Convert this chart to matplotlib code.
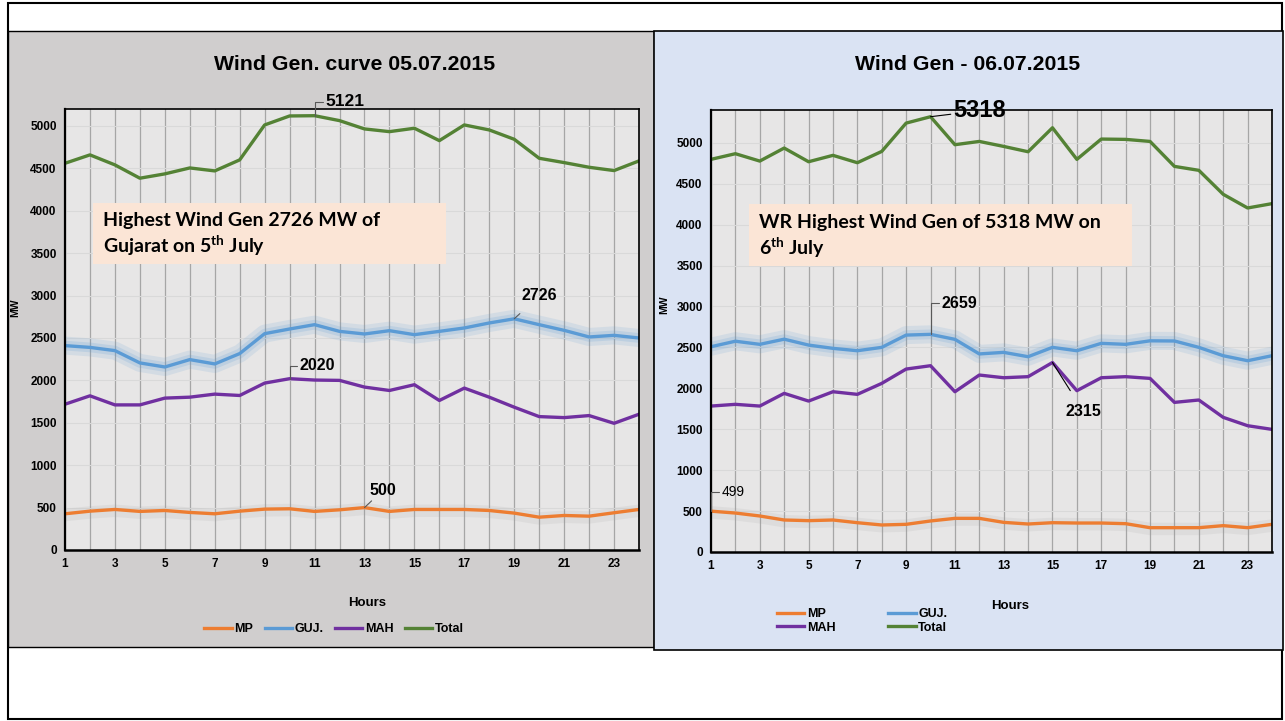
import numpy as np
import matplotlib
matplotlib.use("Agg")
import matplotlib.pyplot as plt
from matplotlib.patches import Rectangle

plt.rcParams["font.family"] = ["Liberation Sans", "DejaVu Sans"]
plt.rcParams["mathtext.fontset"] = "custom"
plt.rcParams["mathtext.rm"] = "Lato:bold"

hours = list(range(1, 25))
odd_hours = list(range(1, 25, 2))

# 05.07.2015
mp_d1 = [427, 458, 478, 455, 466, 443, 427, 458, 482, 486, 455, 474,
         500, 455, 478, 478, 478, 466, 435, 387, 407, 399, 439, 478]
guj_d1 = [2410, 2389, 2351, 2206, 2158, 2245, 2194, 2316, 2551, 2606, 2657, 2578,
          2547, 2586, 2539, 2578, 2618, 2677, 2726, 2657, 2590, 2512, 2531, 2500]
mah_d1 = [1719, 1818, 1711, 1711, 1791, 1802, 1838, 1822, 1968, 2020, 2004, 2000,
          1921, 1881, 1949, 1763, 1909, 1802, 1684, 1573, 1561, 1585, 1494, 1601]
tot_d1 = [4560, 4659, 4541, 4384, 4435, 4505, 4470, 4600, 5012, 5118, 5121, 5063,
          4965, 4933, 4973, 4827, 5012, 4953, 4843, 4619, 4568, 4513, 4474, 4588]

# 06.07.2015
mp_d2 = [499, 476, 440, 391, 383, 391, 358, 330, 338, 379, 411, 411,
         362, 342, 358, 354, 354, 346, 297, 297, 297, 322, 297, 338]
guj_d2 = [2508, 2575, 2537, 2600, 2528, 2488, 2459, 2500, 2650, 2659, 2598, 2420,
          2439, 2386, 2500, 2459, 2549, 2537, 2580, 2578, 2500, 2398, 2337, 2398]
mah_d2 = [1783, 1804, 1783, 1938, 1844, 1958, 1926, 2060, 2235, 2276, 1958, 2162,
          2129, 2142, 2315, 1971, 2129, 2142, 2121, 1828, 1857, 1645, 1543, 1498]
tot_d2 = [4797, 4866, 4776, 4935, 4768, 4846, 4756, 4894, 5240, 5318, 4976, 5016,
          4955, 4890, 5183, 4797, 5045, 5041, 5016, 4711, 4663, 4370, 4203, 4256]

C_MP = "#ed7d31"
C_GUJ = "#5b9bd5"
C_MAH = "#7030a0"
C_TOT = "#548235"

W, H = 1285, 721
fig = plt.figure(figsize=(W / 100, H / 100), dpi=100)


def box(x0, y0, x1, y1):
    return [x0 / W, 1 - y1 / H, (x1 - x0) / W, (y1 - y0) / H]


# page frame and panel backgrounds (behind the axes)
fig.patches.append(Rectangle((8 / W, 1 - 719 / H), 1274 / W, 716 / H, transform=fig.transFigure,
                             fc="white", ec="black", lw=1.5, zorder=-3))
fig.patches.append(Rectangle((8 / W, 1 - 647 / H), 646 / W, 616 / H, transform=fig.transFigure,
                             fc="#d0cece", ec="black", lw=1, zorder=-2))
fig.patches.append(Rectangle((654 / W, 1 - 650 / H), 629 / W, 619 / H, transform=fig.transFigure,
                             fc="#dae3f3", ec="black", lw=1.2, zorder=-2))


def draw(ax, mp, guj, mah, tot, ymax):
    ax.set_facecolor("#e7e6e6")
    ax.plot(hours, np.array(mp) - 15, color="#9a9a9a", lw=9, alpha=0.12, solid_capstyle="round")
    ax.plot(hours, guj, color=C_GUJ, lw=13, alpha=0.14, solid_capstyle="round")
    ax.plot(hours, guj, color=C_GUJ, lw=7, alpha=0.18, solid_capstyle="round")
    ax.plot(hours, mp, color=C_MP, lw=2.4, label="MP")
    ax.plot(hours, guj, color=C_GUJ, lw=2.4, label="GUJ.")
    ax.plot(hours, mah, color=C_MAH, lw=2.4, label="MAH")
    ax.plot(hours, tot, color=C_TOT, lw=2.4, label="Total")
    ax.set_xlim(1, 24)
    ax.set_ylim(0, ymax)
    ax.set_xticks(hours, minor=True)
    ax.set_xticks(odd_hours)
    ax.set_xticklabels([str(h) for h in odd_hours], fontweight="bold", fontsize=8.5)
    ax.set_yticks(range(0, 5001, 500))
    ax.set_yticklabels([str(v) for v in range(0, 5001, 500)], fontweight="bold", fontsize=8.5)
    ax.tick_params(which="both", length=0, pad=6)
    ax.grid(True, which="minor", axis="x", color="#a6a6a6", lw=0.9)
    ax.grid(True, which="major", axis="x", color="#a6a6a6", lw=0.9)
    ax.grid(True, which="major", axis="y", color="#d9d9d9", lw=0.8)
    ax.set_axisbelow(True)
    for s in ax.spines.values():
        s.set_color("black")
        s.set_linewidth(1.2)
    ax.spines["bottom"].set_linewidth(1.8)
    ax.spines["left"].set_linewidth(1.6)
    ax.set_xlabel("Hours", fontweight="bold", fontsize=9.5)
    ax.set_ylabel("MW", fontweight="bold", fontsize=7.5)


lead = dict(arrowstyle="-", color="#595959", lw=0.8, shrinkA=0, shrinkB=0)
elbow = "angle,angleA=0,angleB=90,rad=0"

# left chart
ax1 = fig.add_axes(box(65, 109, 639, 550))
draw(ax1, mp_d1, guj_d1, mah_d1, tot_d1, 5200)
ax1.yaxis.set_label_coords(-0.078, 0.55)
ax1.xaxis.set_label_coords(0.526, -0.107)
fig.text(355 / W, 1 - 64 / H, "Wind Gen. curve 05.07.2015", ha="center", va="center",
         fontsize=15.3, fontweight="bold")
ax1.legend(loc="center", bbox_to_anchor=(334 / W, 1 - 629 / H), bbox_transform=fig.transFigure,
           ncol=4, frameon=False, handlelength=2.2, handletextpad=0.2, columnspacing=0.9,
           prop={"weight": "bold", "size": 9})

ax1.annotate("5121", xy=(11, 5121), xytext=(11, 14), textcoords="offset pixels", ha="left",
             va="center", fontsize=12.5, fontweight="bold",
             arrowprops=dict(lead, connectionstyle=elbow))
ax1.annotate("2726", xy=(19, 2726), xytext=(25, 23), textcoords="offset pixels", ha="center",
             va="center", fontsize=11.5, fontweight="bold",
             arrowprops=dict(lead, shrinkA=8))
ax1.annotate("2020", xy=(10, 2020), xytext=(10, 13), textcoords="offset pixels", ha="left",
             va="center", fontsize=11.5, fontweight="bold",
             arrowprops=dict(lead, connectionstyle=elbow))
ax1.annotate("500", xy=(13, 500), xytext=(18, 17), textcoords="offset pixels", ha="center",
             va="center", fontsize=11.5, fontweight="bold",
             arrowprops=dict(lead, shrinkA=8))

fig.patches.append(Rectangle((93 / W, 1 - 264 / H), 353 / W, 61 / H, transform=fig.transFigure,
                             fc="#fbe5d6", ec="none", zorder=5))
fig.text(103 / W, 1 - 235 / H, "Highest Wind Gen 2726 MW of\nGujarat on 5$^{\\rm th}$ July",
         ha="left", va="center", fontsize=14, fontweight="bold", family="Lato",
         linespacing=1.25, zorder=6)

# right chart
ax2 = fig.add_axes(box(711, 110, 1272, 552))
draw(ax2, mp_d2, guj_d2, mah_d2, tot_d2, 5400)
ax2.yaxis.set_label_coords(-0.075, 0.56)
ax2.xaxis.set_label_coords(0.533, -0.109)
fig.text(968 / W, 1 - 64 / H, "Wind Gen - 06.07.2015", ha="center", va="center",
         fontsize=15.3, fontweight="bold")
h, l = ax2.get_legend_handles_labels()
ax2.legend([h[0], h[2], h[1], h[3]], [l[0], l[2], l[1], l[3]], loc="center",
           bbox_to_anchor=(862 / W, 1 - 621 / H), bbox_transform=fig.transFigure,
           ncol=2, frameon=False, handlelength=2.2, handletextpad=0.2, columnspacing=4.2,
           labelspacing=0.1, prop={"weight": "bold", "size": 9})

ax2.annotate("5318", xy=(10, 5318), xytext=(23, 6), textcoords="offset pixels", ha="left",
             va="center", fontsize=17, fontweight="bold",
             arrowprops=dict(lead, color="black"))
ax2.annotate("2659", xy=(10, 2659), xytext=(11, 31), textcoords="offset pixels", ha="left",
             va="center", fontsize=11.5, fontweight="bold",
             arrowprops=dict(lead, connectionstyle=elbow))
ax2.annotate("2315", xy=(15, 2315), xytext=(31, -49), textcoords="offset pixels", ha="center",
             va="center", fontsize=11.5, fontweight="bold",
             arrowprops=dict(lead, color="black", shrinkA=9))
ax2.annotate("499", xy=(1, 499), xytext=(11, 19), textcoords="offset pixels", ha="left",
             va="center", fontsize=10,
             arrowprops=dict(lead, connectionstyle=elbow))

fig.patches.append(Rectangle((749 / W, 1 - 266 / H), 383 / W, 62 / H, transform=fig.transFigure,
                             fc="#fbe5d6", ec="none", zorder=5))
fig.text(759 / W, 1 - 237 / H, "WR Highest Wind Gen of 5318 MW on\n6$^{\\rm th}$ July",
         ha="left", va="center", fontsize=14, fontweight="bold", family="Lato",
         linespacing=1.25, zorder=6)

fig.savefig("out.png", dpi=100)
